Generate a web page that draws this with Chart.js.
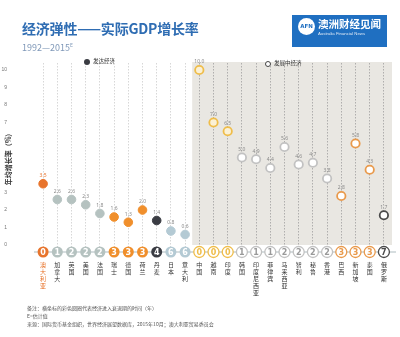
<!DOCTYPE html>
<html>
<head>
<meta charset="utf-8">
<script src="https://cdn.jsdelivr.net/npm/chart.js@4.4.0/dist/chart.umd.min.js"></script>
<style>
body{margin:0;width:400px;height:337px;background:#fff;position:relative;overflow:hidden;font-family:"Noto Sans CJK SC","Noto Sans",sans-serif}
#canva1{position:absolute;left:0;top:0}
.tx{position:absolute;white-space:nowrap;line-height:1}
#titulo{left:22px;top:21px;font-size:14px;font-weight:700;color:#2f6db3;letter-spacing:-0.2px}
#sub{left:22px;top:42px;font-size:9px;color:#7f98b8}
#sub sup{font-size:5px;vertical-align:4px}
.bola{position:absolute;width:6px;height:6px;border-radius:50%;box-sizing:border-box}
.leg{font-size:5.5px;color:#333}
.nota{font-size:5px;color:#555;left:27px}
#logo{position:absolute;left:292px;top:15px;width:95px;height:32px;background:#1f6fc1}
#logo .c{position:absolute;left:6px;top:3px;width:17px;height:17px;border-radius:50%;background:#fff;color:#1f6fc1;font:bold 5.5px "DejaVu Sans",sans-serif;text-align:center;line-height:17px}
#logo .cn{position:absolute;left:26px;top:4px;font-size:10.5px;font-weight:700;color:#fff;line-height:1}
#logo .en{position:absolute;left:26px;top:17px;font-size:4.3px;color:#dfe9f5;line-height:1;font-family:"Liberation Sans",sans-serif}
</style>
</head>
<body>
<canvas id="canva1" width="400" height="337"></canvas>
<div class="tx" id="titulo">经济弹性——实际GDP增长率</div>
<div class="tx" id="sub">1992—2015<sup>E</sup></div>
<div class="bola" style="left:84px;top:59px;background:#3a3c43"></div>
<div class="tx leg" style="left:93px;top:59px">发达经济</div>
<div class="bola" style="left:265px;top:61px;border:1px solid #444;background:#fff"></div>
<div class="tx leg" style="left:274px;top:61px">发展中经济</div>
<div id="logo"><div class="c">AFN</div><div class="cn">澳洲财经见闻</div><div class="en">Australia Financial News</div></div>
<div class="tx nota" style="top:305px">备注：横坐标的彩色圆圈代表经济进入衰退期的时间（年）</div>
<div class="tx nota" style="top:313px">E=估计值</div>
<div class="tx nota" style="top:321px">来源：国际货币基金组织，世界经济展望数据库，2015年10月；澳大利亚贸易委员会</div>
<script>
// dados do grafico
var paisesDesenv = ['澳大利亚','加拿大','英国','美国','法国','瑞士','德国','荷兰','丹麦','日本','意大利'];
var paisesEmerg = ['中国','越南','印度','韩国','印度尼西亚','菲律宾','马来西亚','智利','秘鲁','香港','巴西','新加坡','泰国','俄罗斯'];
var crescDesenv = [3.5,2.6,2.6,2.3,1.8,1.6,1.3,2.0,1.4,0.8,0.6];
var crescEmerg = [10.0,7.0,6.5,5.0,4.9,4.4,5.6,4.6,4.7,3.8,2.8,5.8,4.3,1.7];
var recessDesenv = [0,1,2,2,2,3,3,3,4,6,6];
var recessEmerg = [0,0,0,1,1,1,2,2,2,2,3,3,3,7];
var tituloY = '年均增长率（%）';

var nD = paisesDesenv.length;
var labels = paisesDesenv.concat(paisesEmerg);
var recessoes = recessDesenv.concat(recessEmerg);

function corDesenv(n){
    if(n == 0) return '#e8742c';
    if(n <= 2) return '#b5c2c0';
    if(n == 3) return '#f08f2c';
    if(n == 4) return '#3a3c43';
    return '#b4cad4';
}
function corEmerg(n){
    if(n == 0) return '#efbd4a';
    if(n <= 2) return '#c2c2c2';
    if(n == 3) return '#e99a4c';
    return '#4a4a4a';
}
function corDe(i){ // cor do pais pelo indice geral
    return i < nD ? corDesenv(recessoes[i]) : corEmerg(recessoes[i]);
}

var dadosD = crescDesenv.concat(paisesEmerg.map(function(){return null}));
var dadosE = paisesDesenv.map(function(){return null}).concat(crescEmerg);

var painelPlugin = { // fundo bege dos paises em desenvolvimento
    id:'painel',
    beforeDraw: function(chart){
        var c = chart.ctx, x = chart.scales.x, y = chart.scales.y, a = chart.chartArea;
        var x0 = (x.getPixelForValue(nD-1) + x.getPixelForValue(nD)) / 2;
        c.save();
        c.fillStyle = '#e9e7e2';
        c.fillRect(x0, a.top-1, a.right + 1 - x0, y.getPixelForValue(0) - a.top + 1);
        c.restore();
    }
};

var bolinhasPlugin = { // circulos com numero de recessoes e rotulos dos valores
    id:'bolinhas',
    afterDatasetsDraw: function(chart){
        var c = chart.ctx, x = chart.scales.x, a = chart.chartArea;
        c.save();
        // rotulos dos valores
        c.font = '5px "Noto Sans", sans-serif';
        c.textAlign = 'center';
        c.textBaseline = 'bottom';
        [0,1].forEach(function(d){
            var meta = chart.getDatasetMeta(d);
            var vals = chart.data.datasets[d].data;
            meta.data.forEach(function(p, i){
                if(vals[i] == null) return;
                c.fillStyle = i == 0 ? '#e8742c' : '#8a8a8a';
                c.fillText(vals[i].toFixed(1), p.x, p.y - 5.5);
            });
        });
        // linha dos circulos
        var yb = a.bottom;
        c.strokeStyle = '#c9d2d5';
        c.lineWidth = 1.5;
        c.beginPath();
        c.moveTo(a.left - 2, yb);
        c.lineTo(a.right + 5, yb);
        c.stroke();
        c.font = 'bold 8px "DejaVu Sans", sans-serif';
        c.textBaseline = 'middle';
        for(var i = 0; i < labels.length; i++){
            var px = x.getPixelForValue(i);
            var cor = corDe(i);
            c.beginPath();
            c.arc(px, yb, 5.5, 0, Math.PI*2);
            if(i < nD){
                c.fillStyle = cor;
                c.fill();
                c.fillStyle = '#fff';
            } else {
                c.fillStyle = '#fff';
                c.fill();
                c.lineWidth = 1.3;
                c.strokeStyle = cor;
                c.stroke();
                c.fillStyle = recessoes[i] <= 2 && recessoes[i] > 0 ? '#9a9a9a' : cor;
            }
            c.fillText(String(recessoes[i]), px, yb + 0.5);
        }
        c.restore();
    }
};

var ctx = document.getElementById('canva1').getContext('2d');
var myChart1 = new Chart(ctx, {
    type: 'line',
    data: {
        labels: labels,
        datasets: [{
            data: dadosD,
            showLine: false,
            pointRadius: 4.3,
            pointBorderWidth: 1,
            pointBackgroundColor: recessDesenv.map(corDesenv).concat(recessEmerg.map(corEmerg)),
            pointBorderColor: recessDesenv.map(corDesenv).concat(recessEmerg.map(corEmerg)),
            clip: false
        },{
            data: dadosE,
            showLine: false,
            pointRadius: 4.2,
            pointBorderWidth: 1.8,
            pointBackgroundColor: labels.map(function(l, i){ return recessoes[i] == 0 && i >= nD ? '#fbf1d6' : '#fff'; }),
            pointBorderColor: labels.map(function(l, i){ return corDe(i); }),
            clip: false
        }]
    },
    options: {
        responsive: false,
        animation: false,
        layout: { padding: { top: 63, right: 9, left: 0, bottom: 0 } },
        plugins: { legend: { display: false }, tooltip: { enabled: false } },
        scales: {
            x: {
                offset: true,
                grid: {
                    offset: false,
                    drawTicks: false,
                    lineWidth: 0.8,
                    color: function(c){ return c.index < nD ? '#cdcdcd' : '#a0a0a0'; }
                },
                border: { display: false, dash: [1.5, 1.5] },
                ticks: {
                    autoSkip: false,
                    maxRotation: 0,
                    padding: 9,
                    font: { size: 6, lineHeight: 1.17, family: '"Noto Sans CJK SC", sans-serif' },
                    color: function(c){ return c.index == 0 ? '#e8742c' : '#333'; },
                    callback: function(v, i){ return labels[i].split(''); }
                },
                afterFit: function(s){ s.height = 85; }
            },
            y: {
                min: -0.4,
                max: 10.4,
                grid: { display: false },
                border: { display: false },
                ticks: {
                    stepSize: 1,
                    padding: 21,
                    font: { size: 5 },
                    color: '#777',
                    callback: function(v){ return (v >= 0 && Math.abs(v - Math.round(v)) < 1e-6) ? Math.round(v) : ''; }
                },
                title: { display: true, text: tituloY, color: '#333', font: { size: 7, weight: 'bold', family: '"Noto Sans CJK SC", sans-serif' }, padding: { top: 4, bottom: 0 } },
                afterFit: function(s){ s.width = 36; }
            }
        }
    },
    plugins: [painelPlugin, bolinhasPlugin]
});
</script>
</body>
</html>
